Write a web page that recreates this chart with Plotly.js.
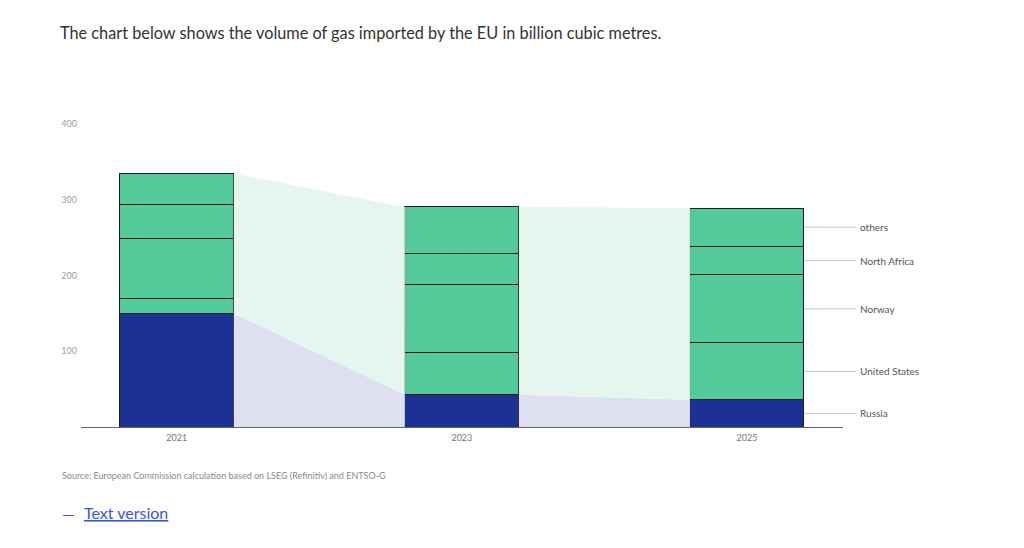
<!DOCTYPE html>
<html>
<head>
<meta charset="utf-8">
<script src="https://cdn.plot.ly/plotly-3.0.1.min.js"></script>
<style>html,body{margin:0;padding:0;background:#fff;}#chart{width:1024px;height:548px;}</style>
</head>
<body>
<div id="chart"></div>
<script>
const years = ['2021', '2023', '2025'];
const seriesNames = ['Russia', 'United States', 'Norway', 'North Africa', 'others'];
const russia = [150, 42.5, 36];
const unitedStates = [19, 56.5, 75];
const norway = [80.5, 88.5, 90];
const northAfrica = [44.5, 41, 37.5];
const others = [40.5, 62, 50.5];
const yTicks = [100, 200, 300, 400];

const series = [russia, unitedStates, norway, northAfrica, others];
const barColors = ['#1b3194', '#54ca9a', '#54ca9a', '#54ca9a', '#54ca9a'];
const xs = years.map((_, i) => i);
const barWidth = 0.4;
const half = barWidth / 2;
const xRange = [-0.336, 2.337];

const totals = xs.map(i => series.reduce((s, arr) => s + arr[i], 0));

const traces = [];
// shaded areas in the gaps between bars
for (let i = 0; i < xs.length - 1; i++) {
  const a = i + half, b = i + 1 - half;
  traces.push({
    type: 'scatter', x: [a, b, b, a, a], y: [russia[i], russia[i + 1], 0, 0, russia[i]],
    mode: 'lines', line: {width: 0}, fill: 'toself', fillcolor: '#dee0f1',
    hoverinfo: 'skip', showlegend: false
  });
  traces.push({
    type: 'scatter', x: [a, b, b, a, a], y: [totals[i], totals[i + 1], russia[i + 1], russia[i], totals[i]],
    mode: 'lines', line: {width: 0}, fill: 'toself', fillcolor: '#e5f6ee',
    hoverinfo: 'skip', showlegend: false
  });
}

series.forEach((arr, k) => {
  traces.push({
    type: 'bar', x: xs, y: arr, name: seriesNames[k], width: barWidth,
    marker: {color: barColors[k], line: {color: '#1e1e1e', width: 1}},
    showlegend: false
  });
});

// right-side labels at midpoints of last bar segments
const last = xs.length - 1;
const toPaperX = v => (v - xRange[0]) / (xRange[1] - xRange[0]);
const shapes = [];
const annotations = [];
let cum = 0;
series.forEach((arr, k) => {
  const mid = cum + arr[last] / 2;
  cum += arr[last];
  shapes.push({type: 'line', xref: 'paper', yref: 'y', x0: toPaperX(last + half), x1: toPaperX(last + 0.383), y0: mid, y1: mid,
    line: {color: '#c8c8c8', width: 1}});
  annotations.push({xref: 'paper', yref: 'y', x: toPaperX(last + 0.39), y: mid, text: seriesNames[k], showarrow: false,
    xanchor: 'left', yanchor: 'middle', font: {family: 'Lato, sans-serif', size: 10, color: '#555'}});
});

const plotW = 1024 - 81 - 181, plotH = 548 - 124 - 121;
const px = v => (v - 81) / plotW;
const py = v => (427 - v) / plotH;

annotations.push({xref: 'paper', yref: 'paper', x: px(60), y: py(475), xanchor: 'left', yanchor: 'middle',
  showarrow: false, text: 'Source: European Commission calculation based on LSEG (Refinitiv) and ENTSO-G',
  font: {family: 'Lato, sans-serif', size: 9, color: '#8a8a8a'}});
annotations.push({xref: 'paper', yref: 'paper', x: px(60), y: py(513), xanchor: 'left', yanchor: 'middle',
  showarrow: false, text: '—', font: {family: 'Lato, sans-serif', size: 16, color: '#3a55e0'}});
annotations.push({xref: 'paper', yref: 'paper', x: px(82), y: py(512), xanchor: 'left', yanchor: 'middle',
  showarrow: false, text: '<span style="text-decoration:underline">Text version</span>',
  font: {family: 'Lato, sans-serif', size: 16, color: '#3a55e0'}});

const layout = {
  width: 1024, height: 548,
  margin: {l: 81, r: 181, t: 124, b: 121, pad: 0},
  paper_bgcolor: '#ffffff', plot_bgcolor: '#ffffff',
  barmode: 'stack',
  showlegend: false,
  title: {text: 'The chart below shows the volume of gas imported by the EU in billion cubic metres.',
    xref: 'container', yref: 'container', x: 60 / 1024, xanchor: 'left', y: 1 - 33 / 548, yanchor: 'middle',
    font: {family: 'Lato, sans-serif', size: 16.3, color: '#333'}},
  xaxis: {range: xRange, tickvals: xs, ticktext: years, showgrid: false, zeroline: false,
    showline: true, linecolor: '#666', linewidth: 1, ticks: '', fixedrange: true, ticklabelstandoff: 2,
    tickfont: {family: 'Lato, sans-serif', size: 9, color: '#777'}},
  yaxis: {range: [0, 400], tickvals: yTicks, showgrid: false, zeroline: false, showline: false, ticks: '',
    ticklabelstandoff: 3,
    tickfont: {family: 'Lato, sans-serif', size: 9, color: '#a0a0a0'}, fixedrange: true},
  shapes: shapes,
  annotations: annotations
};

Plotly.newPlot('chart', traces, layout, {displayModeBar: false, staticPlot: true});
</script>
</body>
</html>
